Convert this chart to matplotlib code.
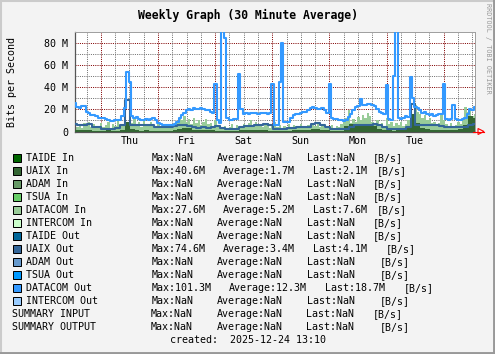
import matplotlib
matplotlib.use("Agg")
import matplotlib.pyplot as plt
import matplotlib.dates as mdates
import pandas as pd
from matplotlib.patches import Rectangle, Polygon
from matplotlib.lines import Line2D

# time span of the weekly graph
end_time = pd.Timestamp("2025-12-24 13:10")
start_time = end_time - pd.Timedelta(days=7)

# DATACOM Out, hourly samples (M)
datacom_out = [
    26, 22, 21, 23, 23, 18, 17, 15, 14.5, 14,
    12.5, 12, 12, 11.5, 10, 9.5, 9.5, 10, 10, 10.5,
    14, 21, 54, 45, 14, 12, 13, 11.5, 10, 10,
    11, 10, 11, 12, 10.5, 8, 6.5, 6, 6, 6,
    5.5, 6, 7, 9, 12, 15, 17, 19, 20, 19.5,
    21, 20, 20.5, 21, 20, 19, 19, 18, 17, 43,
    10, 8, 100, 84, 12, 10, 10, 11, 11, 52,
    20, 16, 17, 16, 17, 16.5, 17, 16, 17, 16.5,
    17, 16, 17, 43, 6, 6, 45, 80, 9, 9,
    8.5, 12, 15, 15.5, 16, 16.5, 18, 18, 19, 21.5,
    22, 21, 20, 20, 21, 19, 17, 43, 12, 11,
    11.5, 10, 10, 9.5, 10, 13, 16, 19, 22, 23,
    29, 24, 24, 25, 24.5, 24, 23, 20, 18, 16.5,
    16, 42, 11, 10, 50, 101, 12, 11, 12, 14,
    13, 49, 30, 22, 21, 19, 17, 18, 16, 15,
    16, 14, 15, 15.5, 16, 43, 11, 10, 11, 24,
    11, 10, 10.5, 11, 12, 16, 20, 19, 22,
]

# DATACOM In, hourly samples (M)
datacom_in = [
    18, 4, 6, 3, 8, 5, 9, 4, 7, 3, 5,
    8, 4, 6, 9, 3, 7, 5, 10, 4, 6,
    12, 9, 5, 8, 11, 6, 9, 4, 10, 7,
    5, 9, 6, 3, 7, 4, 6, 3, 5, 4,
    3, 5, 8, 12, 10, 14, 9, 11, 7, 12,
    8, 10, 6, 9, 11, 7, 8, 5, 10, 4,
    6, 3, 5, 3, 4, 7, 3, 6, 4, 5,
    7, 4, 8, 10, 6, 9, 5, 7, 4, 6,
    8, 3, 5, 9, 4, 6, 3, 5, 4, 7,
    3, 6, 4, 5, 7, 3, 5, 6, 4, 7,
    5, 8, 4, 6, 3, 5, 4, 6, 3, 5,
    4, 7, 9, 12, 19, 8, 11, 9, 13, 10,
    15, 12, 17, 14, 9, 7, 10, 6, 8, 5,
    12, 7, 9, 5, 8, 6, 9, 5, 7, 10,
    19, 14, 24, 18, 16, 12, 15, 10, 12, 8,
    9, 6, 8, 16, 10, 7, 5, 8, 5, 6,
    9, 7, 12, 22, 18, 20, 14, 16,
]

# UAIX Out and UAIX In, 2-hourly samples (M)
uaix_out = [
    6.5, 6, 5.8, 6.5, 4.5, 4, 2.5, 2, 2.5, 3,
    5.5, 28, 6, 5.5, 6, 5.5, 5.5, 4.5, 4, 4.5,
    4.5, 5, 5.5, 6, 5, 4, 3.5, 4, 3.5, 4,
    5, 3, 2, 2, 2.5, 4.5, 5, 5, 6, 6,
    6.5, 5.5, 2.5, 2, 2, 3, 3.5, 4, 4.5, 4,
    7, 7.5, 6, 4.5, 2.5, 2, 2, 2, 4, 5.5,
    6, 5.5, 6, 6.5, 5.5, 4, 2.5, 2, 2, 2.5,
    4, 25, 6, 6, 5.5, 6, 6, 5, 4, 4.5,
    4, 4.5, 4, 6, 7,
]
uaix_in = [
    1, 1.5, 1, 1, 0.5, 0.5, 0.5, 1, 0.5, 0.5,
    1, 9, 2, 1, 0.5, 1, 0.5, 0.5, 0.5, 0.5,
    0.5, 1, 2, 3.5, 3, 1.5, 1, 1.5, 1, 1,
    0.5, 0.5, 0.5, 0.5, 0.5, 1, 1, 1, 1, 1,
    1, 0.5, 0.5, 0.5, 0.5, 0.5, 1, 1, 1, 1,
    2, 2, 1.5, 1, 0.5, 0.5, 0.5, 5, 7, 6,
    6.5, 5, 6, 5, 2, 1, 1, 0.5, 1, 1,
    5, 16, 8, 3, 2, 1.5, 1, 1, 1, 1,
    1, 2, 6, 14, 12,
]

y_ticks = [0, 20, 40, 60, 80]
y_tick_labels = ["0", "20 M", "40 M", "60 M", "80 M"]
day_labels = ["Thu", "Fri", "Sat", "Sun", "Mon", "Tue"]

# legend table
legend_names = ["TAIDE In", "UAIX In", "ADAM In", "TSUA In", "DATACOM In", "INTERCOM In",
                "TAIDE Out", "UAIX Out", "ADAM Out", "TSUA Out", "DATACOM Out", "INTERCOM Out",
                "SUMMARY INPUT", "SUMMARY OUTPUT"]
legend_colors = ["#006600", "#336633", "#669966", "#66CC66", "#99CC99", "#CCFFCC",
                 "#006699", "#336699", "#6699CC", "#0099FF", "#3399FF", "#99CCFF",
                 None, None]
legend_max = ["NaN", "40.6M", "NaN", "NaN", "27.6M", "NaN",
              "NaN", "74.6M", "NaN", "NaN", "101.3M", "NaN", "NaN", "NaN"]
legend_avg = ["NaN", "1.7M", "NaN", "NaN", "5.2M", "NaN",
              "NaN", "3.4M", "NaN", "NaN", "12.3M", "NaN", "NaN", "NaN"]
legend_last = ["NaN", "2.1M", "NaN", "NaN", "7.6M", "NaN",
               "NaN", "4.1M", "NaN", "NaN", "18.7M", "NaN", "NaN", "NaN"]

# column x positions (pixels) for each legend row
col_avg_x = [217, 223, 217, 217, 223, 217, 217, 223, 217, 217, 229, 217, 216.5, 216.5]
col_last_x = [307, 312.5, 307, 307, 312.5, 307, 307, 312.5, 307, 307, 325, 307, 306, 306]
col_unit_x = [372.5, 376.5, 372.5, 372.5, 377, 372.5, 372.5, 386, 380, 380, 404, 380, 373, 380]

W, H = 495, 354
BACK = "#F3F3F3"
MONO = "DejaVu Sans Mono"
FS = 7.2


def fx(x):
    return x / W


def fy(y):
    return 1 - y / H


fig = plt.figure(figsize=(W / 100, H / 100), dpi=100, facecolor=BACK)
ax = fig.add_axes([fx(75), fy(131.5), 400 / W, 100 / H])
ax.set_facecolor("white")

t_hour = mdates.date2num(pd.date_range(start_time, periods=len(datacom_out), freq="h"))
t_2hour = mdates.date2num(pd.date_range(start_time, periods=len(uaix_out), freq="2h"))
t0 = mdates.date2num(start_time)
t1 = mdates.date2num(end_time)

# dotted grid
minor_grid = dict(color="#707070", lw=0.72, ls=(0, (1, 1.2)), zorder=1)
major_grid = dict(color="#800000", lw=0.72, ls=(0, (1, 1.2)), zorder=1)
for v in range(10, 90, 20):
    ax.axhline(v, **minor_grid)
for v in y_ticks[1:]:
    ax.axhline(v, **major_grid)
midnights = pd.date_range(start_time.ceil("D"), end_time, freq="D")
for t in pd.date_range(start_time.ceil("6h"), end_time, freq="6h"):
    if t.hour != 0:
        ax.axvline(mdates.date2num(t), **minor_grid)
for t in midnights:
    ax.axvline(mdates.date2num(t), **major_grid)

# data
ax.fill_between(t_hour, 0, datacom_in, step="mid", color="#99CC99", lw=0, zorder=2)
ax.fill_between(t_2hour, 0, uaix_in, step="mid", color="#336633", lw=0, zorder=3)
ax.plot(t_2hour, uaix_out, drawstyle="steps-mid", color="#336699", lw=1.5, zorder=4)
ax.plot(t_hour, datacom_out, drawstyle="steps-mid", color="#3399FF", lw=1.5, zorder=5)

ax.set_xlim(t0, t1)
ax.set_ylim(0, 90)
ax.set_yticks(y_ticks)
ax.set_yticklabels(y_tick_labels, family=MONO, fontsize=FS)
noons = [mdates.date2num(t + pd.Timedelta(hours=12)) for t in midnights[:len(day_labels)]]
ax.set_xticks(noons)
ax.set_xticklabels(day_labels, family=MONO, fontsize=FS)
ax.tick_params(length=0, pad=5)
ax.tick_params(axis="x", pad=3.5)
for s in ["top", "right"]:
    ax.spines[s].set_color("#A0A0A0")
    ax.spines[s].set_linewidth(0.72)
for s in ["left", "bottom"]:
    ax.spines[s].set_color("#555555")
    ax.spines[s].set_linewidth(0.9)

# red arrow at the end of the time axis
fig.add_artist(Line2D([fx(473), fx(484)], [fy(131.5), fy(131.5)], color="red", lw=0.8))
fig.add_artist(Polygon([(fx(478), fy(128.5)), (fx(484), fy(131.5)), (fx(478), fy(134.5))],
                       closed=True, fill=False, edgecolor="red", lw=0.8))

# titles
fig.text(fx(247.5), fy(15), "Weekly Graph (30 Minute Average)", family=MONO,
         fontsize=8.3, fontweight="bold", ha="center", va="center")
fig.text(fx(12.5), fy(82), "Bits per Second", family=MONO, fontsize=FS,
         rotation=90, ha="center", va="center")
fig.text(fx(488), fy(48.5), "RRDTOOL / TOBI OETIKER", family=MONO, fontsize=4.9,
         color="#999999", rotation=270, ha="center", va="center")

# legend
for k, name in enumerate(legend_names):
    y = 158.3 + 13 * k
    color = legend_colors[k]
    if color is not None:
        fig.add_artist(Rectangle((fx(12.5), fy(y + 4)), 8 / W, 8 / H, facecolor=color,
                                 edgecolor="black", lw=0.72))
        label_x, max_x = 26.5, 151.5
    else:
        label_x, max_x = 12.3, 150.7
    fig.text(fx(label_x), fy(y), name, family=MONO, fontsize=FS, va="center")
    fig.text(fx(max_x), fy(y), "Max:" + legend_max[k], family=MONO, fontsize=FS, va="center")
    fig.text(fx(col_avg_x[k]), fy(y), "Average:" + legend_avg[k], family=MONO, fontsize=FS, va="center")
    fig.text(fx(col_last_x[k]), fy(y), "Last:" + legend_last[k], family=MONO, fontsize=FS, va="center")
    fig.text(fx(col_unit_x[k]), fy(y), "[B/s]", family=MONO, fontsize=FS, va="center")

fig.text(fx(170), fy(340), "created:  2025-12-24 13:10", family=MONO, fontsize=FS, va="center")

# frame around the image
fig.add_artist(Line2D([0, 0, 1], [0, 1, 1], color="#CBCBCB", lw=2.2))
fig.add_artist(Line2D([0, 1, 1], [0, 0, 1], color="#999999", lw=2.8))

fig.savefig("out.png", dpi=100, facecolor=BACK)
